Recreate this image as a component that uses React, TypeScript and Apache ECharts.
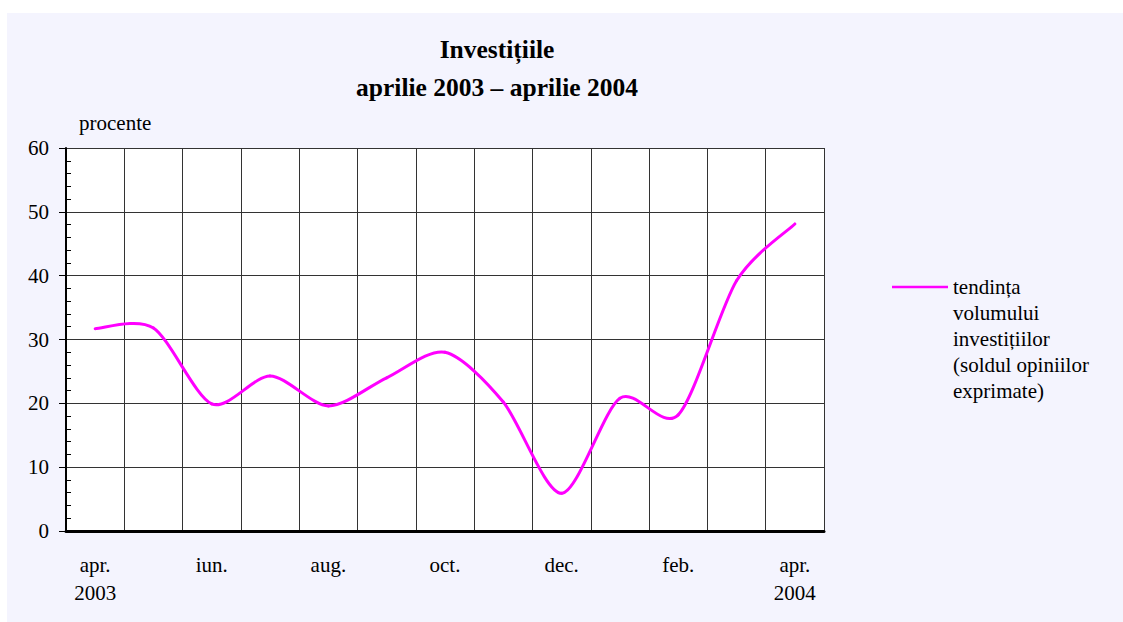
import React, { useEffect, useRef } from "react";
import * as echarts from "echarts";

const months = ["apr.\n2003", "mai", "iun.", "iul.", "aug.", "sep.", "oct.", "nov.", "dec.", "ian.", "feb.", "mar.", "apr.\n2004"];
const values = [31.7, 31.8, 19.9, 24.3, 19.6, 24.0, 28.0, 20.2, 5.9, 20.8, 18.2, 39.2, 48.1];
const yTicks = { min: 0, max: 60, interval: 10 };
const titleText = "Investițiile\naprilie 2003 – aprilie 2004";
const unitText = "procente";
const seriesName = "tendința\nvolumului\ninvestițiilor\n(soldul opiniilor\nexprimate)";

const FONT = "Liberation Serif";
const LINE_COLOR = "#FF00FF";

export default function App() {
  const ref = useRef<HTMLDivElement>(null);
  useEffect(() => {
    if (!ref.current) return;
    const chart = echarts.init(ref.current, null, { renderer: "svg" });
    const seriesData = values.map((v, i) => [i, v]);
    chart.setOption({
      animation: false,
      backgroundColor: "#F4F4FE",
      textStyle: { fontFamily: FONT },
      title: {
        text: titleText,
        left: 485,
        top: 12,
        textAlign: "center",
        textStyle: { fontFamily: FONT, fontWeight: "bold", fontSize: 25.5, lineHeight: 38, color: "#000" },
      },
      grid: {
        left: 59,
        top: 135,
        right: 299,
        bottom: 91,
        show: true,
        backgroundColor: "#ffffff",
        borderWidth: 0,
      },
      xAxis: {
        type: "category",
        data: months,
        boundaryGap: true,
        axisLine: { lineStyle: { color: "#000", width: 3 } },
        axisTick: { show: false },
        axisLabel: {
          interval: 1,
          margin: 20,
          fontFamily: FONT,
          fontSize: 21,
          lineHeight: 28,
          color: "#000",
        },
        splitLine: { show: true, interval: 0, lineStyle: { color: "#333", width: 1 } },
      },
      yAxis: [
        {
          type: "value",
          position: "left",
          min: yTicks.min,
          max: yTicks.max,
          interval: yTicks.interval,
          axisLine: { show: true, lineStyle: { color: "#000", width: 2 } },
          axisTick: { show: true, length: 7, lineStyle: { color: "#000" } },
          axisLabel: { margin: 17, fontFamily: FONT, fontSize: 21, color: "#000" },
          splitLine: { show: true, lineStyle: { color: "#333", width: 1 } },
        },
        {
          type: "value",
          position: "left",
          min: yTicks.min,
          max: yTicks.max,
          interval: yTicks.interval,
          axisLine: { show: false },
          axisTick: { show: false, inside: true },
          axisLabel: { show: false },
          splitLine: { show: false },
          minorTick: { show: true, splitNumber: 5, length: 5, lineStyle: { color: "#000", width: 1 } },
        },
      ],
      series: [
        {
          type: "custom",
          name: seriesName,
          data: seriesData,
          encode: { x: 0, y: 1 },
          z: 5,
          renderItem: (params: any, api: any) => {
            const i = params.dataIndexInside;
            const n = params.dataInsideLength;
            if (i >= n - 1) return null;
            const pt = (k: number) => {
              const kk = Math.max(0, Math.min(n - 1, k));
              return api.coord([api.value(0, kk), api.value(1, kk)]);
            };
            const p0 = pt(i - 1);
            const p1 = pt(i);
            const p2 = pt(i + 1);
            const p3 = pt(i + 2);
            const t = 0.14;
            return {
              type: "bezierCurve",
              shape: {
                x1: p1[0],
                y1: p1[1],
                x2: p2[0],
                y2: p2[1],
                cpx1: p1[0] + (p2[0] - p0[0]) * t,
                cpy1: p1[1] + (p2[1] - p0[1]) * t,
                cpx2: p2[0] - (p3[0] - p1[0]) * t,
                cpy2: p2[1] - (p3[1] - p1[1]) * t,
              },
              style: { stroke: LINE_COLOR, lineWidth: 3, fill: "none", lineCap: "round" },
            };
          },
        },
      ],
      graphic: [
        {
          type: "text",
          left: 72,
          top: 99,
          style: { text: unitText, fontFamily: FONT, fontSize: 21, fill: "#000" },
        },
        {
          type: "line",
          shape: { x1: 885, y1: 274, x2: 941, y2: 274 },
          style: { stroke: LINE_COLOR, lineWidth: 2.5 },
        },
        {
          type: "text",
          left: 946,
          top: 261,
          style: { text: seriesName, fontFamily: FONT, fontSize: 21, lineHeight: 26, fill: "#000" },
        },
      ],
    });
    return () => chart.dispose();
  }, []);
  return (
    <div
      ref={ref}
      style={{ position: "absolute", left: 7, top: 13, width: 1116, height: 609 }}
    />
  );
}
